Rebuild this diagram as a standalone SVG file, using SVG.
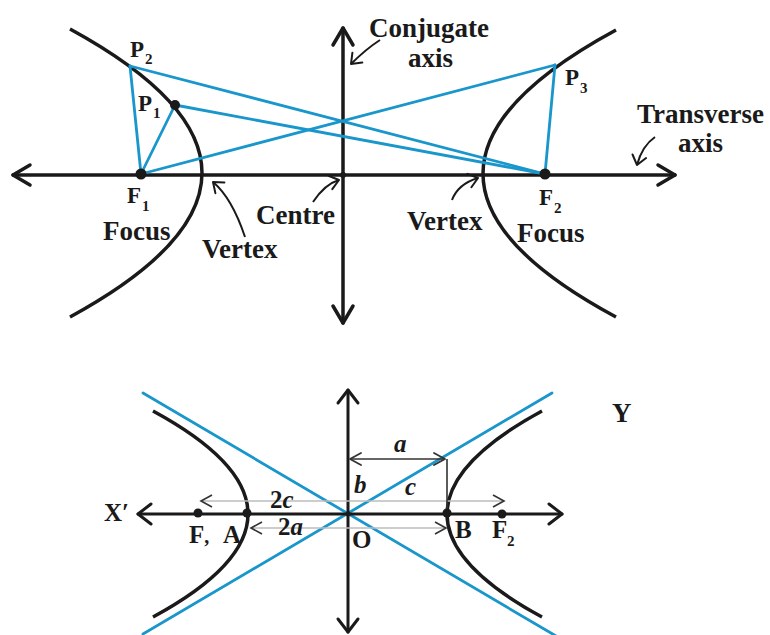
<svg xmlns="http://www.w3.org/2000/svg" width="770" height="635" viewBox="0 0 770 635">
<style>
.ax{fill:none;stroke:#1a1a1a;stroke-width:3.5;stroke-linecap:round}
.ax2{fill:none;stroke:#1a1a1a;stroke-width:3;stroke-linecap:round}
.hy{fill:none;stroke:#1a1a1a;stroke-width:3.5}
.bl{fill:none;stroke:#1996cb;stroke-width:2.8;stroke-linecap:round}
.sa{fill:none;stroke:#1a1a1a;stroke-width:2}
.gr{fill:none;stroke:#bdbdbd;stroke-width:1.6}
.dk{fill:none;stroke:#333;stroke-width:1.6}
.dot{fill:#1a1a1a}
text{font-family:"Liberation Serif","Times New Roman",serif;font-weight:bold;fill:#1a1a1a}
.L{font-size:27px}
.M{font-size:23px}
.S{font-size:15px}
.B{font-size:25px}
.I{font-style:italic}
</style>
<defs>
<marker id="big" markerUnits="userSpaceOnUse" orient="auto-start-reverse" overflow="visible" refX="0" refY="0" markerWidth="30" markerHeight="30">
<path d="M-17,-10 L0,0 L-17,10" fill="none" stroke="#1a1a1a" stroke-width="3.5" stroke-linecap="round" stroke-linejoin="round"/>
</marker>
<marker id="big2" markerUnits="userSpaceOnUse" orient="auto-start-reverse" overflow="visible" refX="0" refY="0" markerWidth="30" markerHeight="30">
<path d="M-13,-10 L0,0 L-13,10" fill="none" stroke="#1a1a1a" stroke-width="3" stroke-linecap="round" stroke-linejoin="round"/>
</marker>
<marker id="sm" markerUnits="userSpaceOnUse" orient="auto" overflow="visible" refX="0" refY="0" markerWidth="20" markerHeight="20">
<path d="M-9,-7 L0,0 L-9,7" fill="none" stroke="#1a1a1a" stroke-width="2" stroke-linecap="round" stroke-linejoin="round"/>
</marker>
<marker id="dim" markerUnits="userSpaceOnUse" orient="auto-start-reverse" overflow="visible" refX="0" refY="0" markerWidth="20" markerHeight="20">
<path d="M-11,-6 L0,0 L-11,6" fill="none" stroke="#333" stroke-width="1.8" stroke-linecap="round" stroke-linejoin="round"/>
</marker>
</defs>

<!-- Top diagram -->
<g id="top-axes">
<line class="ax" x1="13" y1="175" x2="675" y2="175" marker-start="url(#big)" marker-end="url(#big)"/>
<line class="ax" x1="343" y1="28" x2="343" y2="323" marker-start="url(#big)" marker-end="url(#big)"/>
</g>
<g id="top-left-branch"><path class="hy" d="M70,29 Q334,173 70,317"/></g>
<g id="top-right-branch"><path class="hy" d="M616,30 Q350,174 616,317"/></g>
<g id="top-connectors">
<line class="bl" x1="130" y1="66" x2="141" y2="174"/>
<line class="bl" x1="175" y1="105" x2="141" y2="174"/>
<line class="bl" x1="130" y1="66" x2="545" y2="174"/>
<line class="bl" x1="175" y1="105" x2="545" y2="174"/>
<line class="bl" x1="141" y1="174" x2="555" y2="65"/>
<line class="bl" x1="555" y1="65" x2="545" y2="174"/>
</g>
<g id="top-pointers">
<path class="sa" d="M380,40 Q366,49 351,64" marker-end="url(#sm)"/>
<path class="sa" d="M313,202 Q325,184 339,180" marker-end="url(#sm)"/>
<path class="sa" d="M245,237 Q232,198 213,182" marker-end="url(#sm)"/>
<path class="sa" d="M452,200 Q458,184 478,178" marker-end="url(#sm)"/>
<path class="sa" d="M655,137 Q642,146 637,165" marker-end="url(#sm)"/>
</g>
<g id="top-points">
<circle class="dot" cx="141" cy="174" r="5.5"/>
<circle class="dot" cx="175" cy="105" r="5"/>
<circle class="dot" cx="545" cy="174" r="5.5"/>
<circle class="dot" cx="343" cy="175" r="3"/>
</g>
<g id="top-labels">
<text class="M" x="130" y="57">P</text><text class="S" x="145" y="64">2</text>
<text class="M" x="138" y="111">P</text><text class="S" x="153" y="118">1</text>
<text class="M" x="127" y="203">F</text><text class="S" x="142" y="211">1</text>
<text class="L" x="103" y="240">Focus</text>
<text class="L" x="202" y="258">Vertex</text>
<text class="L" x="256" y="224">Centre</text>
<text class="L" x="369" y="37">Conjugate</text>
<text class="L" x="408" y="67">axis</text>
<text class="M" x="565" y="85">P</text><text class="S" x="580" y="93">3</text>
<text class="L" x="637" y="123">Transverse</text>
<text class="L" x="678" y="152">axis</text>
<text class="L" x="407" y="230">Vertex</text>
<text class="M" x="539" y="205">F</text><text class="S" x="554" y="213">2</text>
<text class="L" x="517" y="242">Focus</text>
</g>

<!-- Bottom diagram -->
<g id="bottom-asymptotes">
<line class="bl" x1="143" y1="393" x2="556" y2="636"/>
<line class="bl" x1="143" y1="634" x2="552" y2="393"/>
</g>
<g id="bottom-axes">
<line class="ax2" x1="138" y1="514" x2="562" y2="514" marker-start="url(#big2)" marker-end="url(#big2)"/>
<line class="ax2" x1="348" y1="390" x2="348" y2="632" marker-start="url(#big2)" marker-end="url(#big2)"/>
</g>
<g id="bottom-left-branch"><path class="hy" d="M153,411 Q343,514 153,617"/></g>
<g id="bottom-right-branch"><path class="hy" d="M542,411 Q352,514 542,617"/></g>
<g id="bottom-dimensions">
<line class="gr" x1="202" y1="501" x2="503" y2="501"/>
<path class="dk" d="M212,495 L201,501 L212,507 M493,495 L504,501 L493,507"/>
<line class="gr" x1="252" y1="528" x2="445" y2="528"/>
<path class="dk" d="M262,522 L251,528 L262,534 M435,522 L446,528 L435,534"/>
<line class="dk" x1="350" y1="459" x2="445" y2="459" marker-start="url(#dim)" marker-end="url(#dim)"/>
<line class="dk" x1="447" y1="459" x2="447" y2="513"/>
</g>
<g id="bottom-points">
<circle class="dot" cx="198" cy="513" r="4.5"/>
<circle class="dot" cx="247" cy="513" r="4.5"/>
<circle class="dot" cx="447" cy="513" r="4.5"/>
<circle class="dot" cx="502" cy="514" r="4.5"/>
<circle class="dot" cx="348" cy="514" r="2.5"/>
</g>
<g id="bottom-labels">
<text class="B" x="104" y="521">X′</text>
<text class="B" x="189" y="543">F<tspan font-size="20">,</tspan></text>
<text class="B" x="223" y="543">A</text>
<text class="B" x="352" y="548">O</text>
<text class="B" x="455" y="538">B</text>
<text class="B" x="492" y="538">F</text><text class="S" x="507" y="546">2</text>
<text class="B I" x="394" y="452">a</text>
<text class="B I" x="354" y="493">b</text>
<text class="B I" x="405" y="495">c</text>
<text class="B" x="270" y="508">2<tspan class="I">c</tspan></text>
<text class="B" x="278" y="535">2<tspan class="I">a</tspan></text>
<text class="L" x="612" y="422">Y</text>
</g>
</svg>
